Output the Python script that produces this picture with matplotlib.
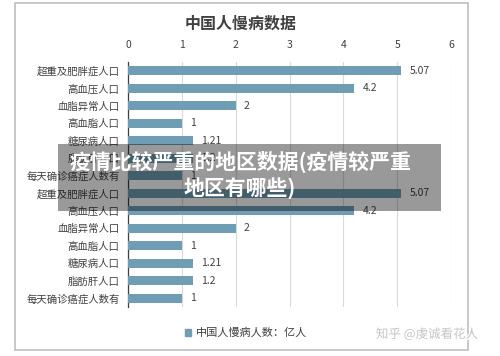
import matplotlib.pyplot as plt
import matplotlib.patches as mpatches
import matplotlib.patheffects as pe

plt.rcParams['font.family'] = ['Noto Sans CJK SC', 'DejaVu Sans']

# chart data (the screenshot shows the same 7 rows twice)
categories = ['超重及肥胖症人口', '高血压人口', '血脂异常人口', '高血脂人口',
              '糖尿病人口', '脂肪肝人口', '每天确诊癌症人数有']
values = [5.07, 4.2, 2, 1, 1.21, 1.2, 1]
value_labels = ['5.07', '4.2', '2', '1', '1.21', '1.2', '1']
rows = categories + categories
row_values = values + values
row_labels = value_labels + value_labels
xticks = [0, 1, 2, 3, 4, 5, 6]

bar_color = '#6f9db3'
W, H = 500, 356

fig = plt.figure(figsize=(5, 3.56), dpi=100)
ax = fig.add_axes([128 / W, 1 - 307 / H, (451 - 128) / W, (307 - 62) / H])

ypos = list(range(len(rows)))
ax.barh(ypos, row_values, height=0.5, color=bar_color, zorder=3)
for y, v, s in zip(ypos, row_values, row_labels):
    ax.annotate(s, (v, y), xytext=(6, 0), textcoords='offset points',
                va='center', ha='left', fontsize=7.5, color='#404040')

ax.set_xlim(0, 6)
ax.set_ylim(len(rows) - 0.5, -0.5)
ax.set_xticks(xticks)
ax.set_yticks(ypos)
ax.set_yticklabels(rows)
ax.xaxis.tick_top()
ax.tick_params(axis='both', length=0, labelsize=7.5, labelcolor='#404040')
ax.tick_params(axis='x', pad=9)
ax.tick_params(axis='y', pad=6)
ax.grid(axis='x', color='#d9d9d9', linewidth=0.8, zorder=0)
for side in ['top', 'right', 'bottom']:
    ax.spines[side].set_visible(False)
ax.spines['left'].set_color('#404040')
ax.spines['left'].set_linewidth(0.9)

# chart frame and title
fig.patches.append(mpatches.Rectangle((15 / W, 1 - 350 / H), (468 - 15) / W, (350 - 3) / H,
                                      transform=fig.transFigure, fill=False,
                                      edgecolor='#bfbfbf', linewidth=1.2))
fig.text(241 / W, 1 - 24 / H, '中国人慢病数据', ha='center', va='center',
         fontsize=11.5, fontweight='bold', color='#404040')

handle = mpatches.Patch(color=bar_color, label='中国人慢病人数：亿人')
fig.legend(handles=[handle], loc='center', bbox_to_anchor=(246 / W, 1 - 333 / H),
           frameon=False, fontsize=8, handlelength=0.6, handleheight=0.6,
           handletextpad=0.4, labelcolor='#404040')

# grey caption banner over the screenshot
fig.patches.append(mpatches.Rectangle((58 / W, 1 - 211 / H), (441 - 58) / W, (211 - 144) / H,
                                      transform=fig.transFigure, facecolor='black',
                                      alpha=0.4, edgecolor='none', zorder=10))
fig.text(240 / W, 1 - 175 / H, '疫情比较严重的地区数据(疫情较严重\n地区有哪些)',
         ha='center', va='center', fontsize=15, fontweight='bold', color='white',
         linespacing=1.2, zorder=11)

fig.text(427 / W, 1 - 334 / H, '知乎 @虔诚看花人', ha='center', va='center',
         fontsize=9, color='#c4c4c4', zorder=11,
         path_effects=[pe.withStroke(linewidth=2, foreground='white')])

fig.savefig('out.png', dpi=100)
